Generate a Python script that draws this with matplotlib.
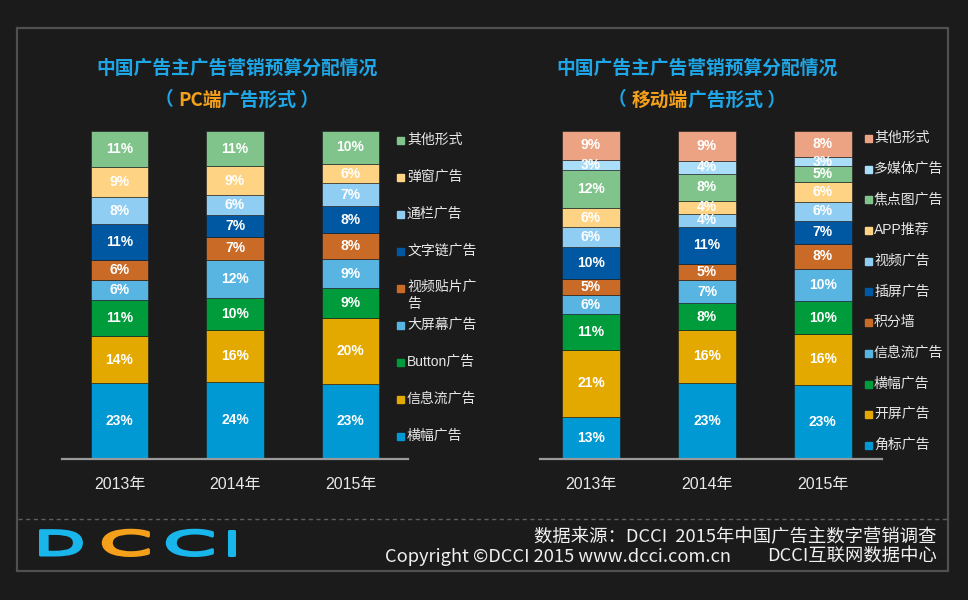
import matplotlib
matplotlib.use('Agg')
import matplotlib.pyplot as plt
from matplotlib.patches import Rectangle
from matplotlib.lines import Line2D
from matplotlib.patheffects import AbstractPathEffect
from matplotlib.transforms import Affine2D
import numpy as np

plt.rcParams['font.family'] = ['Liberation Sans', 'Noto Sans CJK SC', 'DejaVu Sans']

# ---------------- data ----------------
years = ['2013年', '2014年', '2015年']

# PC (bottom -> top)
pc_labels = ['横幅广告', '信息流广告', 'Button广告', '大屏幕广告', '视频贴片广告',
             '文字链广告', '通栏广告', '弹窗广告', '其他形式']
pc_banner = [23, 24, 23]
pc_feed = [14, 16, 20]
pc_button = [11, 10, 9]
pc_bigscreen = [6, 12, 9]
pc_video = [6, 7, 8]
pc_textlink = [11, 7, 8]
pc_tonglan = [8, 6, 7]
pc_popup = [9, 9, 6]
pc_other = [11, 11, 10]

# Mobile (bottom -> top)
mob_labels = ['角标广告', '开屏广告', '横幅广告', '信息流广告', '积分墙', '插屏广告',
              '视频广告', 'APP推荐', '焦点图广告', '多媒体广告', '其他形式']
mob_corner = [13, 23, 23]
mob_splash = [21, 16, 16]
mob_banner = [11, 8, 10]
mob_feed = [6, 7, 10]
mob_wall = [5, 5, 8]
mob_interstitial = [10, 11, 7]
mob_video = [6, 4, 6]
mob_app = [6, 4, 6]
mob_focus = [12, 8, 5]
mob_media = [3, 4, 3]
mob_other = [9, 9, 8]

pc_series = [pc_banner, pc_feed, pc_button, pc_bigscreen, pc_video,
             pc_textlink, pc_tonglan, pc_popup, pc_other]
mob_series = [mob_corner, mob_splash, mob_banner, mob_feed, mob_wall, mob_interstitial,
              mob_video, mob_app, mob_focus, mob_media, mob_other]

pc_colors = ['#0099d4', '#e3a900', '#009b3a', '#58b5e1', '#c96a26',
             '#0058a3', '#8fcdf2', '#fed384', '#80c48c']
mob_colors = ['#0099d4', '#e3a900', '#009b3a', '#58b5e1', '#c96a26', '#0058a3',
              '#8fcdf2', '#fed384', '#80c48c', '#a9ddf8', '#eca384']

BG = '#1b1b1b'
TITLE_BLUE = '#1ea6e6'
ORANGE = '#f5a01a'
W, H = 968, 600


def fx(x):
    return x / W


def fy(y):
    return 1 - y / H


fig = plt.figure(figsize=(W / 100, H / 100), dpi=100, facecolor=BG)

# frame + dashed separator
fig.add_artist(Rectangle((fx(17), fy(571)), 931 / W, 543 / H, transform=fig.transFigure,
                         fill=False, edgecolor='#505050', lw=1.6))
fig.add_artist(Line2D([fx(18), fx(947)], [fy(519), fy(519)], transform=fig.transFigure,
                      color='#5e5e5e', lw=1.0, ls=(0, (3, 2.5))))


def stacked(ax, series, colors):
    data = np.array(series, dtype=float)
    totals = data.sum(axis=0)
    frac = data / totals
    x = np.arange(len(years))
    bottom = np.zeros(len(years))
    for vals, fr, col in zip(series, frac, colors):
        bc = ax.bar(x, fr, 0.5, bottom=bottom, color=col, edgecolor=BG, linewidth=0.4)
        ax.bar_label(bc, labels=[f'{v}%' for v in vals], label_type='center',
                     color='white', fontsize=10, fontweight='bold')
        bottom += fr
    ax.set_ylim(0, 1.0)
    ax.set_facecolor(BG)
    for s in ['left', 'right', 'top']:
        ax.spines[s].set_visible(False)
    ax.spines['bottom'].set_color('#9a9a9a')
    ax.spines['bottom'].set_linewidth(1.6)
    ax.set_yticks([])
    ax.set_xticks(x, years)
    ax.tick_params(axis='x', length=0, pad=13, labelsize=11.5, labelcolor='#e8e8e8')


ax1 = fig.add_axes([fx(62), fy(459), (408 - 62) / W, (459 - 131) / H])
stacked(ax1, pc_series, pc_colors)
ax1.set_xlim(-0.498, 2.498)

ax2 = fig.add_axes([fx(540), fy(459), (882 - 540) / W, (459 - 131) / H])
stacked(ax2, mob_series, mob_colors)
ax2.set_xlim(-0.44, 2.51)


# legends (top -> bottom = reverse of stack)
def legend(labels, colors, xm, xt, y0, dy):
    for i, (lab, col) in enumerate(zip(labels[::-1], colors[::-1])):
        y = y0 + i * dy
        fig.add_artist(Rectangle((fx(xm - 3.5), fy(y + 4)), 7 / W, 7 / H,
                                 transform=fig.transFigure, color=col))
        if lab == '视频贴片广告':
            fig.text(fx(xt), fy(y - 8), '视频贴片广\n告', color='#e8e8e8', fontsize=10,
                     ha='left', va='top', linespacing=1.25)
        else:
            fig.text(fx(xt), fy(y), lab, color='#e8e8e8', fontsize=10,
                     ha='left', va='center')


legend(pc_labels, pc_colors, 400, 407, 140, 37.0)
legend(mob_labels, mob_colors, 868, 874, 138, 30.7)

# titles
fig.text(fx(237), fy(68), '中国广告主广告营销预算分配情况', color=TITLE_BLUE,
         fontsize=13.5, fontweight='bold', ha='center', va='center', family='Noto Sans CJK SC')
fig.text(fx(697), fy(68), '中国广告主广告营销预算分配情况', color=TITLE_BLUE,
         fontsize=13.5, fontweight='bold', ha='center', va='center', family='Noto Sans CJK SC')


def colored_line(parts, cx, cy):
    texts = []
    for s, c in parts:
        t = fig.text(0, fy(cy), s, color=c, ha='left', va='center', fontsize=13.5,
                     fontweight='bold', family='Noto Sans CJK SC')
        texts.append(t)
    fig.canvas.draw()
    r = fig.canvas.get_renderer()
    widths = [t.get_window_extent(r).width for t in texts]
    x = cx - sum(widths) / 2
    for t, w in zip(texts, widths):
        t.set_x(fx(x))
        x += w


colored_line([('（ ', TITLE_BLUE), ('PC端', ORANGE), ('广告形式 ）', TITLE_BLUE)], 237, 100)
colored_line([('（ ', TITLE_BLUE), ('移动端', ORANGE), ('广告形式 ）', TITLE_BLUE)], 697, 100)


# footer logo: real text, horizontally stretched and slightly thickened
class StretchStroke(AbstractPathEffect):
    def __init__(self, sx, x0, color, lw):
        super().__init__()
        self.sx = sx
        self.x0 = x0
        self.color = color
        self.lw = lw

    def draw_path(self, renderer, gc, tpath, affine, rgbFace=None):
        aff = affine + Affine2D().translate(-self.x0, 0).scale(self.sx, 1).translate(self.x0, 0)
        gc0 = renderer.new_gc()
        gc0.copy_properties(gc)
        gc0.set_linewidth(self.lw)
        gc0.set_foreground(self.color)
        gc0.set_joinstyle('round')
        renderer.draw_path(gc0, tpath, aff, rgbFace)
        gc0.restore()


logo_letters = [('D', '#19b6ec', 34, 2.0), ('C', ORANGE, 99, 2.3),
                ('C', '#19b6ec', 163, 2.3), ('I', '#19b6ec', 224, 1.6)]
for ch, col, xl, sx in logo_letters:
    fig.text(fx(xl), fy(555), ch, color=col, fontsize=24, fontweight='normal',
             family='DejaVu Sans', ha='left', va='baseline',
             path_effects=[StretchStroke(sx, xl * 1.0, col, 2.2)])

foot_kw = dict(color='#f0f0f0', fontsize=13.2, family='Noto Sans CJK SC', va='center')
fig.text(fx(937), fy(537), '数据来源：DCCI  2015年中国广告主数字营销调查', ha='right', **foot_kw)
fig.text(fx(385), fy(557), 'Copyright ©DCCI 2015 www.dcci.com.cn', ha='left', **foot_kw)
fig.text(fx(937), fy(557), 'DCCI互联网数据中心', ha='right', **foot_kw)

fig.savefig('out.png', dpi=100, facecolor=BG)
